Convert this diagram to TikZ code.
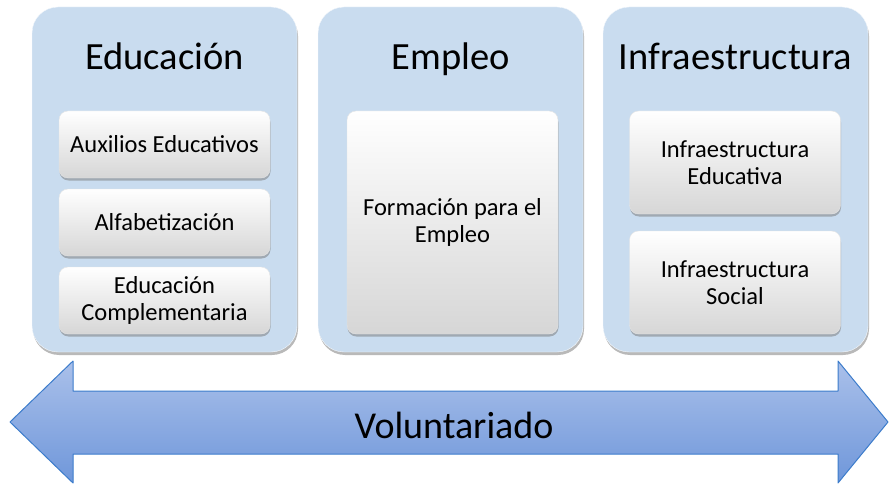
\documentclass[tikz,border=0pt]{standalone}
\usepackage{fontspec}
\setmainfont{Carlito}
\usetikzlibrary{shadows}
\definecolor{panelfill}{HTML}{C9DCEF}
\definecolor{arrowtop}{HTML}{AAC0EA}
\definecolor{arrowbot}{HTML}{6F97DA}
\definecolor{arrowline}{HTML}{3C7CCB}
\begin{document}
\begin{tikzpicture}[x=1pt,y=-1pt,line join=round,
	panel/.style={rounded corners=26pt,fill=panelfill,draw=white!80!panelfill,inner sep=0pt,
		minimum width=265pt,minimum height=345pt,
		drop shadow={shadow xshift=1pt,shadow yshift=-3pt,opacity=.55}},
	item/.style={rounded corners=9pt,top color=white,bottom color=black!16,draw=black!10,
		inner sep=0pt,minimum width=211pt,align=center,font=\fontsize{24.5}{27}\selectfont,
		drop shadow={shadow xshift=.5pt,shadow yshift=-2.5pt,opacity=.55}},
	title/.style={anchor=base,font=\fontsize{38.5}{44}\selectfont}]
	\useasboundingbox (0,0) rectangle (889,484);
	% columns
	\path
	(164.5,179.5) node[panel] (edu) {}
	(450.5,179.5) node[panel] (emp) {}
	(735.5,179.5) node[panel] (inf) {};
	\path
	(164.5,70) node[title] (eduT) {Educación}
	(450.5,70) node[title] (empT) {Empleo}
	(735.5,70) node[title] (infT) {Infraestructura};
	% items
	\path
	(164.5,144.5) node[item,minimum height=67pt] (aux) {Auxilios Educativos}
	(164.5,222.5) node[item,minimum height=67pt] (alf) {Alfabetización}
	(164.5,300.5) node[item,minimum height=67pt] (com) {Educación\\Complementaria}
	(452.5,222.5) node[item,minimum height=223pt] (for) {Formación para el\\Empleo}
	(735,162.5) node[item,minimum height=103pt] (ied) {Infraestructura\\Educativa}
	(735,282.5) node[item,minimum height=103pt] (iso) {Infraestructura\\Social};
	% double arrow
	\draw[arrowline,line width=1pt,top color=arrowtop,bottom color=arrowbot]
	(10,422)--(73,361)--(73,391)--(838,391)--(838,361)--(888,422)--(838,483)--(838,454)--(73,454)--(73,483)--cycle;
	\node[font=\fontsize{38}{44}\selectfont,anchor=base] (vol) at (454,438) {Voluntariado};
\end{tikzpicture}
\end{document}
